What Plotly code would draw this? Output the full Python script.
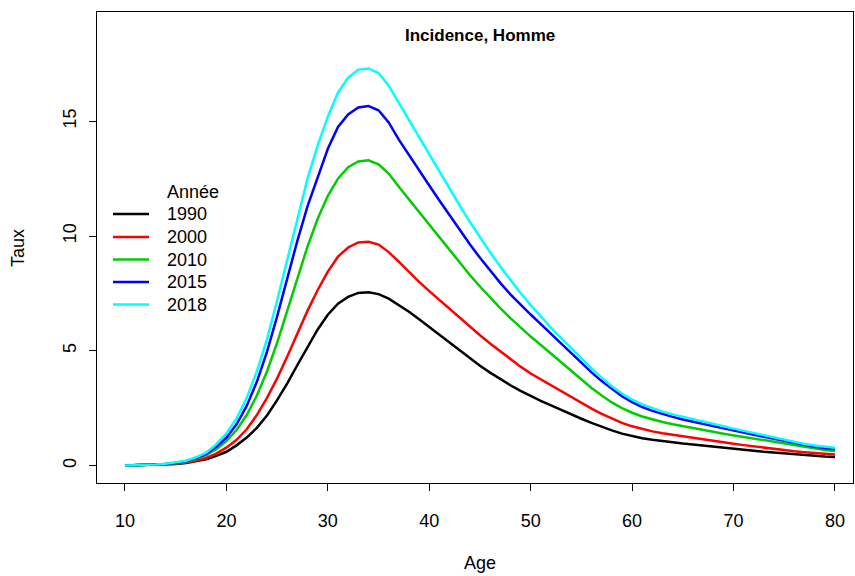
import plotly.graph_objects as go

# Age axis (one value per year)
ages = list(range(10, 81))

# Incidence rate per age
taux_1990 = [
    0.00, 0.01, 0.02, 0.03, 0.05, 0.07, 0.11, 0.18, 0.27, 0.42,
    0.60, 0.88, 1.22, 1.64, 2.18, 2.85, 3.58, 4.38, 5.18, 5.93,
    6.57, 7.05, 7.35, 7.52, 7.55, 7.47, 7.27, 7.00, 6.70, 6.37,
    6.03, 5.68, 5.33, 4.99, 4.66, 4.35, 4.05, 3.77, 3.50, 3.25,
    3.02, 2.82, 2.62, 2.42, 2.23, 2.04, 1.86, 1.69, 1.53, 1.39,
    1.28, 1.19, 1.12, 1.06, 1.01, 0.96, 0.92, 0.88, 0.83, 0.78,
    0.74, 0.69, 0.65, 0.60, 0.56, 0.52, 0.48, 0.45, 0.42, 0.39,
    0.37,
]
taux_2000 = [
    0.00, 0.01, 0.02, 0.03, 0.05, 0.08, 0.13, 0.21, 0.33, 0.52,
    0.78, 1.12, 1.58, 2.20, 2.95, 3.80, 4.75, 5.75, 6.75, 7.65,
    8.45, 9.10, 9.50, 9.72, 9.75, 9.63, 9.30, 8.88, 8.43, 8.00,
    7.60, 7.21, 6.82, 6.43, 6.05, 5.68, 5.32, 4.97, 4.63, 4.31,
    4.01, 3.75, 3.49, 3.23, 2.97, 2.72, 2.48, 2.25, 2.04, 1.86,
    1.71, 1.59, 1.49, 1.41, 1.34, 1.27, 1.20, 1.13, 1.07, 1.01,
    0.95, 0.89, 0.83, 0.77, 0.72, 0.67, 0.62, 0.58, 0.54, 0.51,
    0.48,
]
taux_2010 = [
    0.00, 0.01, 0.02, 0.04, 0.06, 0.10, 0.17, 0.28, 0.45, 0.71,
    1.07, 1.55, 2.20, 3.05, 4.10, 5.35, 6.75, 8.20, 9.55, 10.75,
    11.75, 12.50, 13.00, 13.25, 13.30, 13.12, 12.72, 12.15, 11.60, 11.05,
    10.50, 9.95, 9.38, 8.83, 8.30, 7.80, 7.32, 6.86, 6.42, 6.01,
    5.62, 5.25, 4.87, 4.48, 4.10, 3.73, 3.38, 3.05, 2.75, 2.50,
    2.30, 2.14, 2.01, 1.90, 1.80, 1.71, 1.63, 1.55, 1.47, 1.39,
    1.32, 1.24, 1.16, 1.08, 1.01, 0.94, 0.87, 0.80, 0.74, 0.68,
    0.63,
]
taux_2015 = [
    0.00, 0.01, 0.02, 0.04, 0.07, 0.11, 0.19, 0.32, 0.50, 0.82,
    1.22, 1.80, 2.60, 3.65, 4.95, 6.50, 8.15, 9.80, 11.30, 12.60,
    13.80, 14.75, 15.30, 15.60, 15.66, 15.48, 14.95, 14.20, 13.52, 12.86,
    12.20, 11.55, 10.90, 10.26, 9.64, 9.05, 8.49, 7.96, 7.46, 7.01,
    6.58, 6.16, 5.74, 5.31, 4.88, 4.46, 4.06, 3.68, 3.33, 3.02,
    2.76, 2.55, 2.38, 2.24, 2.12, 2.01, 1.91, 1.81, 1.71, 1.61,
    1.52, 1.43, 1.34, 1.25, 1.16, 1.07, 0.98, 0.90, 0.82, 0.76,
    0.71,
]
taux_2018 = [
    0.00, 0.01, 0.03, 0.05, 0.08, 0.13, 0.21, 0.36, 0.56, 0.92,
    1.40, 2.05, 2.95, 4.10, 5.50, 7.20, 9.00, 10.80, 12.50, 13.95,
    15.20, 16.25, 16.90, 17.25, 17.30, 17.10, 16.55, 15.80, 15.05, 14.30,
    13.55, 12.80, 12.06, 11.33, 10.62, 9.94, 9.29, 8.67, 8.08, 7.52,
    6.99, 6.49, 6.01, 5.55, 5.10, 4.66, 4.23, 3.83, 3.46, 3.14,
    2.87, 2.66, 2.49, 2.35, 2.23, 2.12, 2.01, 1.91, 1.81, 1.71,
    1.61, 1.51, 1.41, 1.31, 1.21, 1.11, 1.02, 0.94, 0.87, 0.82,
    0.78,
]

years = ["1990", "2000", "2010", "2015", "2018"]
series = [taux_1990, taux_2000, taux_2010, taux_2015, taux_2018]
colors = ["#000000", "#FF0000", "#00CD00", "#0000FF", "#00FFFF"]

x_ticks = [10, 20, 30, 40, 50, 60, 70, 80]
y_ticks = [0, 5, 10, 15]

FONT = "Liberation Sans, Arial, Helvetica, sans-serif"

# page / plot box in pixels (R-like margins)
W, H = 855, 576
L, R, T, B = 97, 2, 12, 93
PW, PH = W - L - R, H - T - B


def px(x):
    return (x - L) / PW


def py(y):
    return (H - B - y) / PH


fig = go.Figure()

for year, vals, color in zip(years, series, colors):
    fig.add_trace(go.Scatter(
        x=ages,
        y=vals,
        mode="lines",
        name=year,
        line=dict(color=color, width=2.5),
        showlegend=False,
    ))

annotations = [
    dict(text="<b>Incidence, Homme</b>", x=px(480), y=py(36), font=dict(size=17),
         xanchor="center", yanchor="middle"),
    dict(text="Age", x=px(480), y=py(563), xanchor="center", yanchor="middle"),
    dict(text="Taux", x=px(18), y=py(248), textangle=-90, xanchor="center", yanchor="middle"),
    dict(text="Année", x=px(165), y=py(192), xanchor="left", yanchor="middle"),
]
shapes = []

# R-style legend without a box
row_y = [214, 237, 259.5, 282, 304.5]
for year, color, yy in zip(years, colors, row_y):
    shapes.append(dict(type="line", xref="paper", yref="paper",
                       x0=px(113), x1=px(149), y0=py(yy), y1=py(yy),
                       line=dict(color=color, width=2.5)))
    annotations.append(dict(text=year, x=px(165), y=py(yy), xanchor="left", yanchor="middle"))

for a in annotations:
    a.update(xref="paper", yref="paper", showarrow=False)

fig.update_layout(
    width=W,
    height=H,
    margin=dict(l=L, r=R, t=T, b=B),
    paper_bgcolor="white",
    plot_bgcolor="white",
    font=dict(family=FONT, size=18, color="black"),
    showlegend=False,
    annotations=annotations,
    shapes=shapes,
)

fig.update_xaxes(
    range=[7.24, 81.78],
    tickvals=x_ticks,
    ticks="outside", ticklen=7, tickwidth=1, tickcolor="black",
    showline=True, linecolor="black", linewidth=1, mirror=True,
    showgrid=False, zeroline=False,
    ticklabelstandoff=14,
    automargin=False,
)
fig.update_yaxes(
    range=[-0.76, 19.76],
    tickvals=y_ticks,
    tickangle=-90,
    ticks="outside", ticklen=7, tickwidth=1, tickcolor="black",
    showline=True, linecolor="black", linewidth=1, mirror=True,
    showgrid=False, zeroline=False,
    ticklabelstandoff=6,
    automargin=False,
)

# drop the default 8px page margin so the figure sits at the top-left corner
fig.write_html(
    "out.html",
    config={"displayModeBar": False},
    post_script="document.body.style.margin='0';",
)
